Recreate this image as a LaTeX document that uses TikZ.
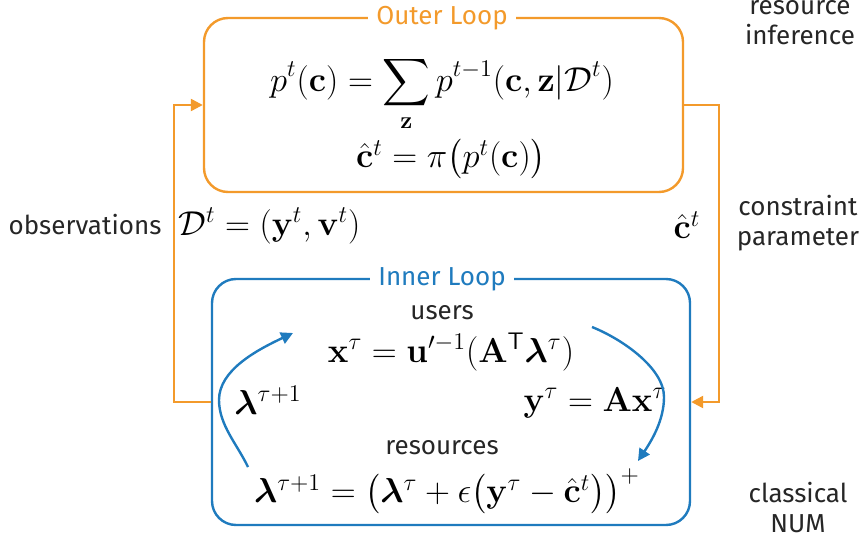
\documentclass[tikz,border=0pt]{standalone}
\usepackage{amsmath,amssymb,bm}
\usepackage[no-math]{fontspec}
\newfontfamily\fira{Fira Sans}
\usetikzlibrary{arrows.meta}
\definecolor{outerc}{HTML}{F39A2B}
\definecolor{innerc}{HTML}{1F7BBE}
\tikzset{
  loopbox/.style={draw, line width=1.2pt, rounded corners=12pt, inner sep=0pt},
  looptitle/.style={fill=white, inner xsep=4pt, inner ysep=1pt, font=\fira\fontsize{13}{15}\selectfont},
  lbl/.style={font=\fira\fontsize{13}{15}\selectfont, text=black!85, align=center, inner sep=1pt},
  eq/.style={font=\fontsize{16.5}{19}\selectfont, inner sep=0.5pt},
  ocon/.style={draw=outerc, line width=1.2pt, -{Triangle[length=6pt,width=6pt]}},
  icon/.style={draw=innerc, line width=1.2pt, -{Triangle[length=6pt,width=6pt]}},
}
\begin{document}
\begin{tikzpicture}[x=0.5pt,y=-0.5pt]
\useasboundingbox (0,0) rectangle (861,545);
% boxes
\node[loopbox, draw=outerc, minimum width=239.5pt, minimum height=87pt] (outer) at (443.5,105) {};
\node[loopbox, draw=innerc, minimum width=239pt, minimum height=123pt] (inner) at (451,402) {};
\node[looptitle, text=outerc] (otitle) at (442,18) {Outer Loop};
\node[looptitle, text=innerc] (ititle) at (442,279) {Inner Loop};
% outer equations
\node[eq] (oeq1) at (442,94) {$\displaystyle p^t(\mathbf{c}) = \sum_{\mathbf{z}} p^{t-1}(\mathbf{c},\mathbf{z}|\mathcal{D}^t)$};
\node[eq] (oeq2) at (451,159) {$\hat{\mathbf{c}}^t = \pi\bigl(p^t(\mathbf{c})\bigr)$};
% inner contents
\node[lbl] (users) at (442,313) {users};
\node[eq] (xeq) at (451,352) {$\mathbf{x}^\tau = \mathbf{u}'^{-1}(\mathbf{A}^{\mathsf{T}}\bm{\lambda}^\tau)$};
\node[eq] (lam) at (268,400) {$\bm{\lambda}^{\tau+1}$};
\node[eq] (yeq) at (595,403) {$\mathbf{y}^\tau = \mathbf{A}\mathbf{x}^\tau$};
\node[lbl] (res) at (442,448) {resources};
\node[eq] (leq) at (447,492) {$\bm{\lambda}^{\tau+1} = \bigl(\bm{\lambda}^\tau + \epsilon\bigl(\mathbf{y}^\tau - \hat{\mathbf{c}}^t\bigr)\bigr)^+$};
% side labels
\node[lbl] (ri) at (800,23) {resource\\inference};
\node[lbl] (cp) at (798,223) {constraint\\parameter};
\node[lbl] (cn) at (798,508) {classical\\NUM};
\node[lbl] (obs) at (85,225) {observations};
\node[eq, anchor=west] (dt) at (177,226) {$\mathcal{D}^t = (\mathbf{y}^t,\mathbf{v}^t)$};
\node[eq] (ch) at (687,225) {$\hat{\mathbf{c}}^t$};
% outer connectors
\draw[ocon] (outer.east) -- ++(35,0) |- (inner.east);
\draw[ocon] (inner.west) -- ++(-37,0) |- (outer.west);
% inner curved arrows
\coordinate (ls) at (248,467);
\coordinate (lm) at (219,400);
\coordinate (le) at (293,333);
\coordinate (rs) at (592,327);
\coordinate (rm) at (664,397);
\coordinate (re) at (638,461);
\draw[icon] (ls) .. controls (237,444) and (219,425) .. (lm) .. controls (219,370) and (257,350) .. (le);
\draw[icon] (rs) .. controls (622,339) and (664,368) .. (rm) .. controls (664,420) and (652,440) .. (re);
\end{tikzpicture}
\end{document}
